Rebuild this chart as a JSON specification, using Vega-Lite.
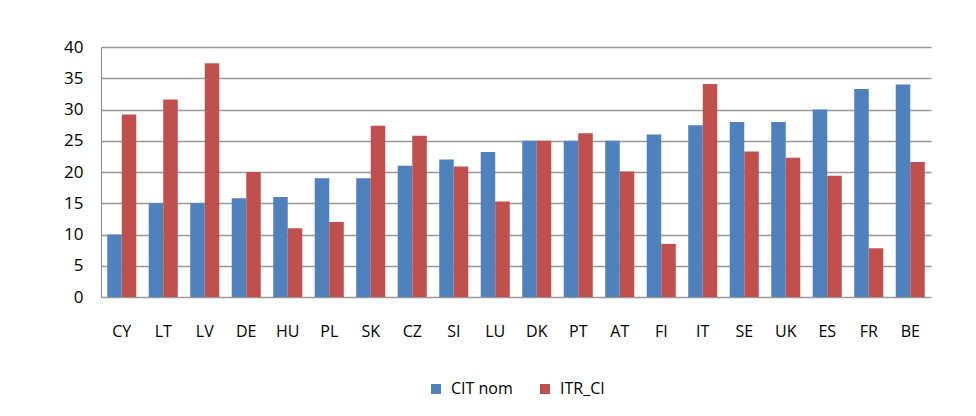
{
  "$schema": "https://vega.github.io/schema/vega-lite/v6.json",
  "width": 830,
  "height": 250,
  "padding": {"left": 63, "top": 38, "right": 30, "bottom": 5},
  "background": "white",
  "data": {
    "values": [
      {"country": "CY", "series": "CIT nom", "value": 10},
      {"country": "CY", "series": "ITR_CI", "value": 29.2},
      {"country": "LT", "series": "CIT nom", "value": 15},
      {"country": "LT", "series": "ITR_CI", "value": 31.6},
      {"country": "LV", "series": "CIT nom", "value": 15},
      {"country": "LV", "series": "ITR_CI", "value": 37.4},
      {"country": "DE", "series": "CIT nom", "value": 15.8},
      {"country": "DE", "series": "ITR_CI", "value": 20},
      {"country": "HU", "series": "CIT nom", "value": 16},
      {"country": "HU", "series": "ITR_CI", "value": 11},
      {"country": "PL", "series": "CIT nom", "value": 19},
      {"country": "PL", "series": "ITR_CI", "value": 12},
      {"country": "SK", "series": "CIT nom", "value": 19},
      {"country": "SK", "series": "ITR_CI", "value": 27.4},
      {"country": "CZ", "series": "CIT nom", "value": 21},
      {"country": "CZ", "series": "ITR_CI", "value": 25.8},
      {"country": "SI", "series": "CIT nom", "value": 22},
      {"country": "SI", "series": "ITR_CI", "value": 20.9},
      {"country": "LU", "series": "CIT nom", "value": 23.2},
      {"country": "LU", "series": "ITR_CI", "value": 15.3},
      {"country": "DK", "series": "CIT nom", "value": 25},
      {"country": "DK", "series": "ITR_CI", "value": 25},
      {"country": "PT", "series": "CIT nom", "value": 25},
      {"country": "PT", "series": "ITR_CI", "value": 26.2},
      {"country": "AT", "series": "CIT nom", "value": 25},
      {"country": "AT", "series": "ITR_CI", "value": 20.1},
      {"country": "FI", "series": "CIT nom", "value": 26},
      {"country": "FI", "series": "ITR_CI", "value": 8.5},
      {"country": "IT", "series": "CIT nom", "value": 27.5},
      {"country": "IT", "series": "ITR_CI", "value": 34.1},
      {"country": "SE", "series": "CIT nom", "value": 28},
      {"country": "SE", "series": "ITR_CI", "value": 23.3},
      {"country": "UK", "series": "CIT nom", "value": 28},
      {"country": "UK", "series": "ITR_CI", "value": 22.3},
      {"country": "ES", "series": "CIT nom", "value": 30},
      {"country": "ES", "series": "ITR_CI", "value": 19.4},
      {"country": "FR", "series": "CIT nom", "value": 33.3},
      {"country": "FR", "series": "ITR_CI", "value": 7.8},
      {"country": "BE", "series": "CIT nom", "value": 34},
      {"country": "BE", "series": "ITR_CI", "value": 21.6}
    ]
  },
  "mark": {"type": "bar", "stroke": null},
  "encoding": {
    "x": {
      "field": "country",
      "type": "nominal",
      "sort": null,
      "title": null,
      "scale": {"paddingInner": 0.3, "paddingOuter": 0.15},
      "axis": {"labelAngle": 0, "labelPadding": 26, "ticks": false, "domain": false, "labelFont": "Open Sans", "labelFontSize": 16, "labelColor": "#000"}
    },
    "y": {
      "field": "value",
      "type": "quantitative",
      "title": null,
      "scale": {"domain": [0, 40], "nice": false},
      "axis": {"values": [0,5,10,15,20,25,30,35,40], "ticks": false, "domain": true, "domainColor": "#888", "labelPadding": 18, "labelFont": "Open Sans", "labelFontSize": 17, "labelColor": "#000", "gridColor": "#999", "gridWidth": 1.5}
    },
    "xOffset": {"field": "series", "type": "nominal"},
    "color": {
      "field": "series",
      "type": "nominal",
      "scale": {"domain": ["CIT nom", "ITR_CI"], "range": ["#4F81BD", "#C0504D"]},
      "legend": {"orient": "bottom", "direction": "horizontal", "title": null, "symbolType": "square", "symbolStrokeWidth": 0, "symbolSize": 100, "labelOffset": 7, "labelFont": "Open Sans", "labelFontSize": 16, "labelColor": "#000", "offset": 42, "columnPadding": 24}
    }
  },
  "config": {"view": {"stroke": null}, "legend": {"layout": {"bottom": {"anchor": "middle"}}}}
}
